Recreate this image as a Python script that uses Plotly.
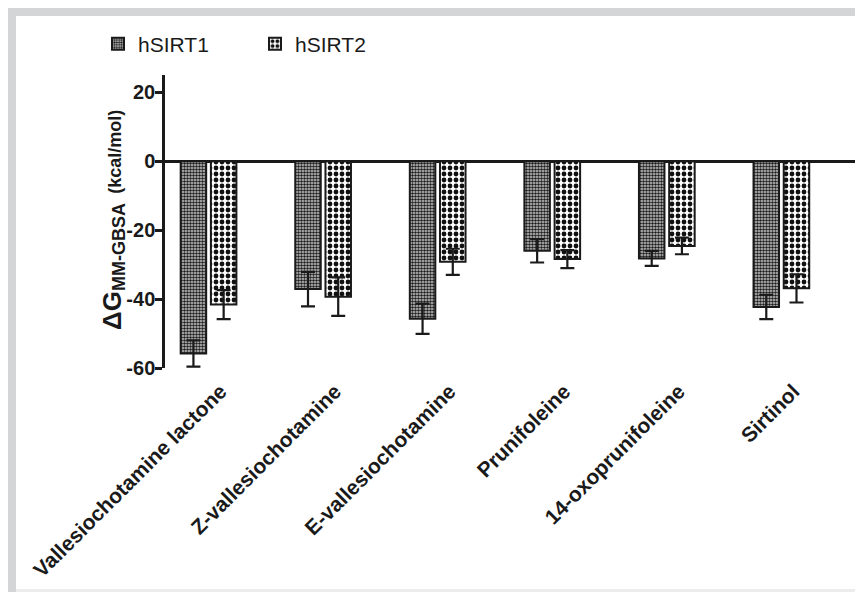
import plotly.graph_objects as go

categories = ["Vallesiochotamine lactone", "Z-vallesiochotamine", "E-vallesiochotamine",
              "Prunifoleine", "14-oxoprunifoleine", "Sirtinol"]
sirt1_values = [-55.8, -37.1, -45.7, -26.0, -28.2, -42.3]
sirt1_errors = [3.8, 5.0, 4.4, 3.4, 2.2, 3.5]
sirt2_values = [-41.6, -39.3, -29.2, -28.4, -24.6, -36.9]
sirt2_errors = [4.2, 5.6, 3.8, 2.6, 2.4, 4.1]
ytick_vals = [-60, -40, -20, 0, 20]
ytick_text = ["-60", "-40", "-20", "0", "20"]

FONT = "Arial, Liberation Sans, sans-serif"

fig = go.Figure()
fig.add_trace(go.Bar(
    name="hSIRT1", x=list(range(len(categories))), y=sirt1_values,
    error_y=dict(type="data", array=sirt1_errors, color="#1a1a1a", thickness=2.2, width=7),
    marker=dict(color="#cfcfcf", line=dict(color="#1a1a1a", width=2),
                pattern=dict(shape=".", size=3, solidity=0.55, fgcolor="#1e1e1e",
                             bgcolor="#cccccc", fillmode="replace")),
))
fig.add_trace(go.Bar(
    name="hSIRT2", x=list(range(len(categories))), y=sirt2_values,
    error_y=dict(type="data", array=sirt2_errors, color="#1a1a1a", thickness=2.2, width=7),
    marker=dict(color="white", line=dict(color="#1a1a1a", width=2),
                pattern=dict(shape=".", size=6, solidity=0.5, fgcolor="#111111",
                             bgcolor="white", fillmode="replace")),
))

# page body adds an 8px offset; work in screenshot coordinates
OFF = 8
W, H = 863 - OFF, 592 - OFF
L, R, T, B = 165 - OFF, 863 - 857, 75 - OFF, 592 - 368
pw, ph = W - L - R, H - T - B

def px(xs):
    return (xs - OFF - L) / pw

def py(ys):
    return (H - B - (ys - OFF)) / ph

shapes = [
    dict(type="rect", xref="paper", yref="paper", x0=px(8), x1=px(880), y0=py(8), y1=py(16),
         fillcolor="#d4d5d7", line=dict(width=0), layer="below"),
    dict(type="rect", xref="paper", yref="paper", x0=px(8), x1=px(16), y0=py(8), y1=py(600),
         fillcolor="#d4d5d7", line=dict(width=0), layer="below"),
    dict(type="rect", xref="paper", yref="paper", x0=px(16), x1=px(880), y0=py(589), y1=py(600),
         fillcolor="#ececec", line=dict(width=0), layer="below"),
]

ytitle = ('<b><span style="font-size:26px">ΔG</span>'
          '<sub><span style="font-size:18px">MM-GBSA</span></sub>'
          '  (kcal/mol)</b>')

annotations = [
    dict(text=ytitle, xref="paper", yref="paper", x=px(113), y=py(220),
         xanchor="center", yanchor="middle", textangle=-90, showarrow=False,
         font=dict(size=18, family=FONT, color="#1a1a1a")),
]

fig.update_layout(
    width=W, height=H,
    margin=dict(l=L, r=R, t=T, b=B, pad=0),
    paper_bgcolor="white", plot_bgcolor="white",
    font=dict(family=FONT, size=20, color="#1a1a1a"),
    barmode="group", bargap=0.4725, bargroupgap=0.156,
    showlegend=True,
    legend=dict(orientation="h", x=px(98), xanchor="left", y=py(44), yanchor="middle",
                font=dict(size=21, family=FONT), entrywidth=112, entrywidthmode="pixels",
                bgcolor="rgba(0,0,0,0)", itemsizing="constant", traceorder="normal"),
    shapes=shapes,
    annotations=annotations,
    xaxis=dict(range=[-0.38, 5.66], tickvals=list(range(len(categories))),
               ticktext=["<b>%s</b>" % c for c in categories], tickangle=-45,
               showline=False, ticks="", showgrid=False, zeroline=False,
               ticklabelshift=12, ticklabelstandoff=6,
               tickfont=dict(size=21, family=FONT, color="#1a1a1a")),
    yaxis=dict(range=[-60, 25], tickvals=ytick_vals,
               ticktext=["<b>%s</b>" % t for t in ytick_text],
               showline=True, linecolor="#1a1a1a", linewidth=2.5,
               ticks="outside", ticklen=7, tickwidth=2.5, tickcolor="#1a1a1a",
               ticklabelstandoff=-4,
               showgrid=False, zeroline=True, zerolinecolor="#1a1a1a", zerolinewidth=2.5,
               tickfont=dict(size=20, family=FONT, color="#1a1a1a")),
)

fig.write_html("out.html")
